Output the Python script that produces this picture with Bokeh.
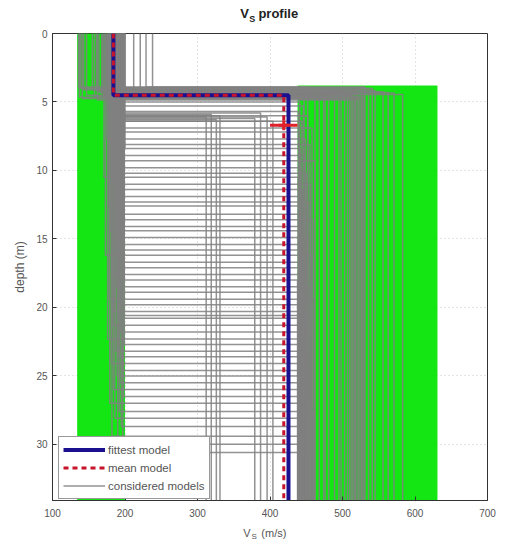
from bokeh.plotting import figure
from bokeh.layouts import column
from bokeh.models import Range1d, Legend, LegendItem
from bokeh.core.properties import value
from bokeh.embed import file_html
from bokeh.resources import INLINE

# ---------------- data ----------------
x_ticks = [100, 200, 300, 400, 500, 600, 700]
y_ticks = [0, 5, 10, 15, 20, 25, 30]
depth_max = 34.1

# accepted-range bands (green): [layer 1, half-space]
band_vs_min = [134, 438]
band_vs_max = [200, 631]
band_depth_top = [0.0, 3.8]
band_depth_bot = [34.1, 34.1]

# fittest and mean two-layer models
fit_vs = [184, 184, 425.5, 425.5]
fit_depth = [0, 4.5, 4.5, 34.1]
mean_vs = [184, 184, 419, 419]
mean_depth = [0, 4.5, 4.5, 34.1]
mean_err_vs = [400, 438]
mean_err_depth = 6.7

# considered models: layer-1 Vs, interface depth, half-space Vs
# shallow-interface models
shallow_vs1 = [136, 139, 143, 161, 164, 168, 171, 174, 177, 180, 183, 186, 189, 192, 195, 198, 200,
               137, 141, 162, 169, 175, 181, 187, 193, 197, 212, 221, 229, 238, 147, 155, 158]
shallow_h = [3.9, 4.0, 4.1, 4.2, 4.3, 4.4, 4.5, 4.6, 4.7, 4.8, 3.95, 4.05, 4.15, 4.25, 4.35, 4.45,
             4.55, 4.65, 4.75, 4.85, 4.2, 4.4, 4.6, 4.0, 4.3, 4.7, 4.1, 4.3, 3.9, 4.2, 4.5, 4.1, 4.6]
shallow_vs2 = [452, 468, 481, 495, 503, 510, 514, 518, 522, 526, 530, 536, 545, 556, 571, 583, 447,
               489, 507, 516, 520, 524, 528, 541, 563, 462, 498, 517, 531, 476, 512, 527, 474]
# low half-space velocity models
low_vs1 = [191, 185, 197, 188, 194, 182, 199, 187]
low_h = [6.1, 5.9, 6.3, 6.0, 6.2, 5.8, 6.1, 6.4]
low_vs2 = [312, 319, 326, 331, 379, 387, 396, 404]
# deep-interface models
deep_vs1 = [186, 193, 179, 198, 190, 183, 196, 175, 188, 200,
            192, 181, 197, 185, 171, 194, 189, 199, 184, 177,
            195, 187, 191, 180, 198, 186, 193, 173, 189, 196,
            182, 199, 188, 192, 178, 195, 185, 197, 190, 183,
            194, 176, 199, 187, 191, 181, 196, 189, 193, 184,
            198, 179, 192, 186, 195, 182, 190, 197]
deep_h = [5.0, 5.3, 5.7, 6.0, 6.4, 6.9, 7.2, 7.7, 8.1, 8.4,
          8.9, 9.3, 9.8, 10.2, 10.5, 11.0, 11.4, 11.9, 12.3, 12.6,
          13.2, 13.6, 14.1, 14.4, 14.9, 15.4, 15.8, 16.2, 16.7, 17.1,
          17.6, 18.0, 18.5, 18.9, 19.4, 19.8, 20.3, 20.6, 20.8, 21.3,
          21.8, 22.3, 22.7, 23.2, 23.6, 24.1, 24.6, 25.0, 25.5, 26.0,
          26.5, 27.0, 27.6, 28.1, 28.7, 29.4, 30.0, 30.6]
deep_vs2 = [441, 446, 439, 452, 444, 458, 440, 449, 455, 442,
            447, 462, 443, 450, 439, 456, 445, 441, 453, 448,
            442, 459, 444, 440, 451, 446, 443, 457, 449, 441,
            445, 438, 454, 447, 461, 443, 440, 450, 446, 442,
            458, 444, 439, 452, 448, 441, 455, 443, 447, 440,
            449, 445, 460, 442, 451, 444, 439, 446]

FONT = "Liberation Sans"
TXT = "#555555"

# ---------------- main figure ----------------
p = figure(width=502, height=496,
           x_range=Range1d(100, 700), y_range=Range1d(depth_max, 0),
           output_backend="svg", toolbar_location=None,
           min_border_left=52, min_border_right=15,
           min_border_top=5, min_border_bottom=24)
p.background_fill_color = "white"
p.border_fill_color = "white"
p.outline_line_color = "#333333"

for ax, ticks in ((p.xaxis, x_ticks), (p.yaxis, y_ticks)):
    ax.ticker = ticks
    ax.major_tick_in = 4
    ax.major_tick_out = 0
    ax.minor_tick_line_color = None
    ax.axis_line_color = "#333333"
    ax.major_tick_line_color = "#333333"
    ax.major_label_text_font = FONT
    ax.major_label_text_font_size = "10px"
    ax.major_label_text_color = TXT
p.xaxis.major_label_standoff = 8
p.yaxis.major_label_standoff = 5

p.yaxis.axis_label = "depth (m)"
p.yaxis.axis_label_text_font = FONT
p.yaxis.axis_label_text_font_size = "12px"
p.yaxis.axis_label_text_font_style = "normal"
p.yaxis.axis_label_text_color = TXT
p.yaxis.axis_label_standoff = 6

p.grid.grid_line_color = "#c8c8c8"
p.grid.grid_line_dash = "1 3"
p.xgrid.ticker = x_ticks
p.ygrid.ticker = y_ticks

# green bands
p.quad(left=band_vs_min, right=band_vs_max, top=band_depth_top, bottom=band_depth_bot,
       fill_color="#14e614", line_color=None)

# considered models
xs, ys = [], []
for v1s, hs, v2s in ((shallow_vs1, shallow_h, shallow_vs2),
                     (low_vs1, low_h, low_vs2),
                     (deep_vs1, deep_h, deep_vs2)):
    for v1, h, v2 in zip(v1s, hs, v2s):
        xs.append([v1, v1, v2, v2])
        ys.append([0, h, h, depth_max])
r_cons = p.multi_line(xs, ys, line_color="#808080", line_width=1.5, line_alpha=0.85)

# fittest and mean
r_fit = p.line(fit_vs, fit_depth, line_color="#1a1090", line_width=4)
r_mean = p.line(mean_vs, mean_depth, line_color="#c8142a", line_width=3, line_dash="5 4")
p.segment(x0=[mean_err_vs[0]], y0=[mean_err_depth], x1=[mean_err_vs[1]], y1=[mean_err_depth],
          line_color="#e0202a", line_width=3)
p.scatter([sum(mean_err_vs) / 2], [mean_err_depth], marker="cross", size=10,
          line_color="#e0202a", line_width=3)

legend = Legend(items=[LegendItem(label="fittest model", renderers=[r_fit]),
                       LegendItem(label="mean model", renderers=[r_mean]),
                       LegendItem(label="considered models", renderers=[r_cons])],
                location=(6, 1))
legend.margin = 0
legend.label_text_font = FONT
legend.label_text_font_size = "11.5px"
legend.label_text_color = TXT
legend.glyph_width = 42
legend.glyph_height = 17
legend.label_height = 17
legend.spacing = 1
legend.padding = 4
legend.label_standoff = 3
legend.border_line_color = "#333333"
legend.background_fill_alpha = 1.0
p.add_layout(legend)


# ---------------- title and x-label strips (same x scale as the frame) ----------------
def strip(h):
    f = figure(width=502, height=h, x_range=Range1d(100, 700), y_range=Range1d(h, 0),
               output_backend="svg", toolbar_location=None,
               x_axis_location=None, y_axis_location=None,
               min_border_left=52, min_border_right=15, min_border_top=0, min_border_bottom=0)
    f.outline_line_color = None
    f.grid.visible = False
    f.background_fill_color = "white"
    f.border_fill_color = "white"
    return f


def put(f, x, y, txt, size, style, color):
    f.text(x=[x], y=[y], text=[txt], text_font=value(FONT), text_font_size=value(size),
           text_font_style=style, text_color=color, text_align="left", text_baseline="middle")


pt = strip(28)
put(pt, 359, 13, "V", "13px", "bold", "#222222")
put(pt, 371.5, 18, "S", "9px", "bold", "#222222")
put(pt, 384, 13, "profile", "13px", "bold", "#222222")

px = strip(20)
put(px, 363, 8, "V", "11px", "normal", TXT)
put(px, 374.5, 12, "S", "8px", "normal", TXT)
put(px, 388, 8, "(m/s)", "11px", "normal", TXT)

layout = column(pt, p, px, spacing=0)
open("out.html", "w").write(file_html(layout, INLINE))
